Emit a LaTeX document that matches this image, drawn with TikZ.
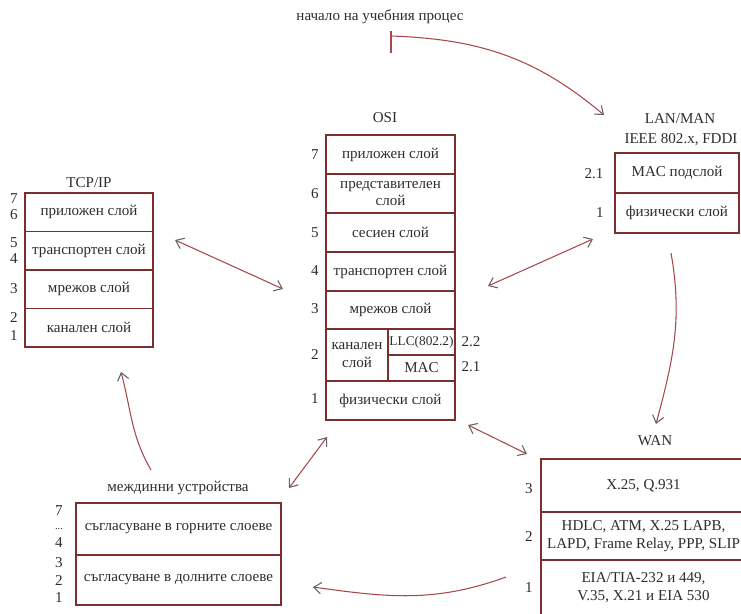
\documentclass[tikz,border=0pt]{standalone}
\usepackage{fontspec}
\setmainfont{Liberation Serif}
\usepackage{tikz}
\usetikzlibrary{arrows.meta}
\definecolor{boxred}{RGB}{122,46,46}
\definecolor{linkred}{RGB}{168,72,76}
\definecolor{tipgray}{RGB}{100,100,100}
\definecolor{txt}{RGB}{45,45,45}

\begin{document}
\begin{tikzpicture}[x=0.75pt,y=-0.75pt]
      \tikzset{every node/.style = {font=\fontsize{11.3}{13}\selectfont,text=txt}}
      \tikzset{layer/.style = {shape=rectangle,draw=boxred,line width=0.9pt,inner sep=0pt,align=center}}
      \tikzset{num/.style = {inner sep=0pt}}
      \tikzset{tip/.style = {arrows = {Straight Barb[color=tipgray,length=5.5pt,width=8.5pt]-Straight Barb[color=tipgray,length=5.5pt,width=8.5pt]}}}
      \tikzset{link/.style = {draw=linkred,line width=0.8pt,tip}}
      \tikzset{flow/.style = {draw=linkred,line width=0.8pt,-{Straight Barb[color=tipgray,length=5.5pt,width=8.5pt]}}}
      \useasboundingbox (0,0) rectangle (741,613);
      % TCP/IP
      \node (tcptitle) at (89,183) {TCP/IP};
      \node[layer,minimum width=96pt,minimum height=28.875pt] (tcp76) at (89,212.25) {приложен слой};
      \node[layer,minimum width=96pt,minimum height=28.875pt] (tcp54) at (89,250.75) {транспортен слой};
      \node[layer,minimum width=96pt,minimum height=28.875pt] (tcp3) at (89,289.25) {мрежов слой};
      \node[layer,minimum width=96pt,minimum height=28.875pt] (tcp21) at (89,327.75) {канален слой};
      \node[num] (t7) at (14,199) {7};
      \node[num] (t6) at (14,215) {6};
      \node[num] (t5) at (14,243) {5};
      \node[num] (t4) at (14,259) {4};
      \node[num] (t3) at (14,289) {3};
      \node[num] (t2) at (14,318) {2};
      \node[num] (t1) at (14,336) {1};
      % OSI
      \node (osititle) at (385,118) {OSI};
      \node[layer,minimum width=96.75pt,minimum height=29.25pt] (osi7) at (390.5,154.5) {приложен слой};
      \node[layer,minimum width=96.75pt,minimum height=29.25pt] (osi6) at (390.5,193.5) {представителен\\слой};
      \node[layer,minimum width=96.75pt,minimum height=29.25pt] (osi5) at (390.5,232.5) {сесиен слой};
      \node[layer,minimum width=96.75pt,minimum height=29.25pt] (osi4) at (390.5,271.5) {транспортен слой};
      \node[layer,minimum width=96.75pt,minimum height=28.5pt] (osi3) at (390.5,310) {мрежов слой};
      \node[layer,minimum width=46.5pt,minimum height=39pt] (osi2) at (357,355) {канален\\слой};
      \node[layer,minimum width=50.25pt,minimum height=19.5pt,font=\fontsize{10}{12}\selectfont] (llc) at (421.5,342) {LLC(802.2)};
      \node[layer,minimum width=50.25pt,minimum height=19.5pt] (mac) at (421.5,368) {MAC};
      \node[layer,minimum width=96.75pt,minimum height=29.25pt] (osi1) at (390.5,400.5) {физически слой};
      \node[num] (o7) at (315,155) {7};
      \node[num] (o6) at (315,194) {6};
      \node[num] (o5) at (315,233) {5};
      \node[num] (o4) at (315,271) {4};
      \node[num] (o3) at (315,309) {3};
      \node[num] (o2) at (315,355) {2};
      \node[num] (o1) at (315,399) {1};
      \node[num] (o22) at (471,342) {2.2};
      \node[num] (o21) at (471,367) {2.1};
      % LAN/MAN
      \node (lantitle) at (680,119) {LAN/MAN};
      \node (lansub) at (681,140) {IEEE 802.x, FDDI};
      \node[layer,minimum width=93pt,minimum height=30pt] (lanmac) at (677,173) {MAC подслой};
      \node[layer,minimum width=93pt,minimum height=30pt] (lanphy) at (677,213) {физически слой};
      \node[num] (l21) at (594,174) {2.1};
      \node[num] (l1) at (600,213) {1};
      % WAN
      \node (wantitle) at (655,441) {WAN};
      \node[layer,minimum width=153.75pt,minimum height=39.75pt] (wan3) at (643.5,485.5) {X.25, Q.931};
      \node[layer,minimum width=153.75pt,minimum height=36pt] (wan2) at (643.5,536) {HDLC, ATM, X.25 LAPB,\\LAPD, Frame Relay, PPP, SLIP};
      \node[layer,minimum width=153.75pt,minimum height=41.25pt] (wan1) at (643.5,587.5) {EIA/TIA-232 и 449,\\V.35, X.21 и EIA 530};
      \node[num] (w3) at (529,489) {3};
      \node[num] (w2) at (529,537) {2};
      \node[num] (w1) at (529,588) {1};
      % междинни устройства
      \node (midtitle) at (178,488) {междинни устройства};
      \node[layer,minimum width=153.75pt,minimum height=39pt] (midup) at (178.5,529) {съгласуване в горните слоеве};
      \node[layer,minimum width=153.75pt,minimum height=37.5pt] (middown) at (178.5,580) {съгласуване в долните слоеве};
      \node[num] (m7) at (59,511) {7};
      \node[num,font=\fontsize{8}{9}\selectfont] (mdots) at (59,529) {...};
      \node[num] (m4) at (59,543) {4};
      \node[num] (m3) at (59,563) {3};
      \node[num] (m2) at (59,581) {2};
      \node[num] (m1) at (59,598) {1};
      % start
      \node (start) at (380,17) {начало на учебния процес};
      \coordinate (bartop) at (391,31);
      \coordinate (barbot) at (391,53);
      \coordinate (s0) at (391,36);
      \coordinate (s1) at (604,115);
      \coordinate (a1) at (175,240);
      \coordinate (a2) at (283,289);
      \coordinate (b1) at (488,286);
      \coordinate (b2) at (593,239);
      \coordinate (c1) at (671,253);
      \coordinate (c2) at (656,424);
      \coordinate (d1) at (468,425);
      \coordinate (d2) at (527,454);
      \coordinate (e1) at (327,437);
      \coordinate (e2) at (289,488);
      \coordinate (f1) at (506,577);
      \coordinate (f2) at (313,587);
      \coordinate (g1) at (151,470);
      \coordinate (g2) at (121,372);
      \draw[draw=linkred,line width=0.9pt] (bartop) -- (barbot);
      \draw[flow] (s0) to[out=-2,in=140] (s1);
      \draw[link] (a1) -- (a2);
      \draw[link] (b1) -- (b2);
      \draw[flow] (c1) to[out=-80,in=75] (c2);
      \draw[link] (d1) -- (d2);
      \draw[link] (e1) -- (e2);
      \draw[flow] (f1) to[out=200,in=-8] (f2);
      \draw[flow] (g1) to[out=120,in=-75] (g2);
\end{tikzpicture}
\end{document}
